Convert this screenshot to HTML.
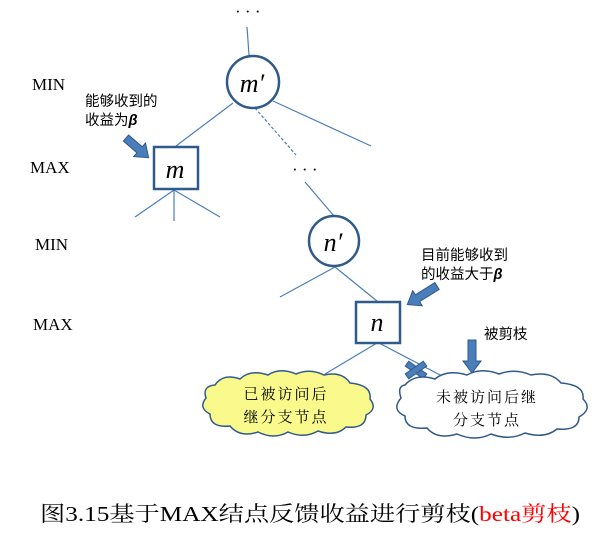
<!DOCTYPE html>
<html><head><meta charset="utf-8"><style>body{margin:0;background:#fff}svg{display:block}</style></head>
<body>
<svg width="613" height="542" viewBox="0 0 613 542" xmlns="http://www.w3.org/2000/svg">
<g stroke="#4a7ebb" stroke-width="1.2" fill="none">
<line x1="247" y1="27" x2="249" y2="55"/>
<line x1="233" y1="103" x2="176" y2="146"/>
<line x1="255" y1="108" x2="296" y2="155" stroke-dasharray="3,2"/>
<line x1="273" y1="101" x2="371" y2="146"/>
<line x1="305" y1="182" x2="334" y2="216"/>
<line x1="174" y1="190" x2="135" y2="217"/>
<line x1="174" y1="190" x2="174" y2="221"/>
<line x1="174" y1="190" x2="220" y2="217"/>
<line x1="335" y1="267" x2="280" y2="297"/>
<line x1="335" y1="267" x2="377" y2="301"/>
<line x1="377" y1="343" x2="325" y2="374"/>
<line x1="379" y1="343" x2="442" y2="376"/>
</g>
<g fill="#fff" stroke="#2f5a8a" stroke-width="2.5">
<circle cx="253" cy="82" r="26"/>
<circle cx="334" cy="241" r="25"/>
<rect x="154" y="147" width="44" height="42"/>
<rect x="356" y="302" width="44" height="41"/>
</g>
<g font-family="Liberation Serif, serif" font-style="italic" font-size="26" fill="#000" text-anchor="middle">
<text x="252" y="92">m′</text>
<text x="333" y="251">n′</text>
<text x="175" y="178">m</text>
<text x="377" y="331">n</text>
</g>
<g font-family="Liberation Serif, serif" font-size="17" fill="#000">
<text x="32" y="90">MIN</text>
<text x="30" y="173">MAX</text>
<text x="35" y="250">MIN</text>
<text x="33" y="330">MAX</text>
<text x="235" y="17">· · ·</text>
<text x="292" y="175">· · ·</text>
</g>
<g font-family="Liberation Sans, Noto Sans CJK SC, sans-serif" font-size="14.5" fill="#000">
<text x="85" y="106">能够收到的</text>
<text x="85" y="125">收益为<tspan font-weight="bold" font-style="italic">β</tspan></text>
<text x="421" y="260">目前能够收到</text>
<text x="421" y="279">的收益大于<tspan font-weight="bold" font-style="italic">β</tspan></text>
<text x="484" y="339">被剪枝</text>
</g>
<g fill="#4a7ebb" stroke="#2f5a8a" stroke-width="1">
<path transform="translate(126,138) rotate(41)" d="M0,-4 H18 V-9 L30,0 L18,9 V4 H0 Z"/>
<path transform="translate(437,286) rotate(148)" d="M0,-4 H23 V-9 L35,0 L23,9 V4 H0 Z"/>
<path transform="translate(472,340) rotate(90)" d="M0,-4 H21 V-9 L33,0 L21,9 V4 H0 Z"/>
<g transform="translate(416,370)"><rect x="-11" y="-3" width="22" height="6" transform="rotate(35)"/><rect x="-11" y="-3" width="22" height="6" transform="rotate(-35)"/></g>
</g>
<path d="M215,385 q8,-12 25,-6 q10,-10 28,-4 q12,-8 28,-1 q14,-6 28,1 q18,-4 26,8 q22,2 20,16 q8,10 -4,16 q0,14 -20,12 q-10,10 -28,4 q-14,8 -30,1 q-14,8 -30,0 q-18,6 -28,-6 q-20,2 -20,-12 q-12,-6 -4,-16 q-4,-12 9,-13 z" fill="#fafa8c" stroke="#2f5a8a" stroke-width="1.5"/>
<path d="M405,385 q10,-12 30,-6 q12,-10 32,-4 q14,-8 32,-1 q16,-6 32,1 q20,-4 30,8 q24,2 22,16 q10,10 -4,18 q0,14 -22,12 q-12,10 -32,4 q-16,8 -34,1 q-16,8 -34,0 q-20,6 -30,-6 q-22,2 -22,-12 q-14,-6 -4,-18 q-4,-12 4,-13 z" fill="#fff" stroke="#2f5a8a" stroke-width="1.5"/>
<g font-family="Noto Serif CJK SC, serif" font-size="15" fill="#000" text-anchor="middle">
<text x="286" y="399" letter-spacing="2">已被访问后</text>
<text x="286" y="422" letter-spacing="2">继分支节点</text>
<text x="487" y="402" letter-spacing="2">未被访问后继</text>
<text x="487" y="425" letter-spacing="2">分支节点</text>
</g>
<text x="40" y="521" font-family="Liberation Serif, Noto Serif CJK SC, serif" font-size="21" fill="#000" textLength="540" lengthAdjust="spacingAndGlyphs">图3.15基于MAX结点反馈收益进行剪枝(<tspan fill="#f00">beta剪枝</tspan>)</text>
</svg>
</body></html>
